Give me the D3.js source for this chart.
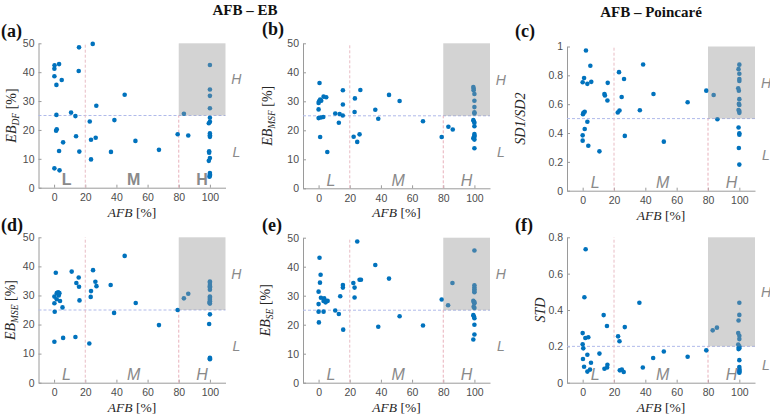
<!DOCTYPE html>
<html><head><meta charset="utf-8">
<script src="https://cdn.jsdelivr.net/npm/d3@7"></script>
<style>body{margin:0;background:#fff}svg{display:block}</style>
</head><body>
<svg id="chart" width="770" height="416"></svg>
<script>
// ---- tick labels ----
const xTicks = [0, 20, 40, 60, 80, 100];
const ebTicks = [0, 10, 20, 30, 40, 50];
const sdTicks = [0, 0.2, 0.4, 0.6, 0.8, 1];
const stdTicks = [0, 0.2, 0.4, 0.6, 0.8];
const zoneLabels = ["L", "M", "H"];
const levelLabels = ["H", "L"];
const titles = ["AFB – EB", "AFB – Poincaré"];

// ---- (a) EB_DF ----
const afbA = [0.3,0.2,3.2,0.2,4.9,1.5,16,15.8,10.9,13.7,1.5,1.3,1.7,14.1,5.8,3.2,16.2,0.2,3.5,
  24.8,45.3,27.1,22.9,38.7,23.7,26.7,36.5,23.7,52.2,67.3,79.3, 83.3,86.1,
  100,100,100,100,100,100,99.3,100,100,100,99.5,99.5,100,99.3,100,100,100,99.7];
const ebDF = [42.4,41.2,42.8,38.6,37.3,35.6,48.6,40.4,26,24.8,25.2,19.7,20.2,17.8,15.7,12.7,12.5,6.7,6,
  49.8,32.2,28.4,22.9,23.4,16.6,17.3,12.4,9.8,16.2,13.1,18.5, 25.6,18.1,
  42.5,34,31.8,27.5,24.2,22.8,22.3,18.8,18.2,17.6,12.6,12.1,10.3,9.3,5.1,4.6,4.1,3.8];

// ---- (b) EB_MSF ----
const afbB = [0.6,1,0.3,0,0,3.2,4.9,0,1.5,3,1,5.6,10.7,13.5,15.5,13,15.6,15.6,1.7,
  23.3,23.1,22.5,24.8,26.3,26.8,36.4,38.3,45.2,52,67,79, 83.3,86.1,
  99.3,99.5,99.5,100,100,100,100,100,99.3,99.7,100,100,100,100,99.3,100,100,100];
const ebMSF = [36.3,30.6,30,29.4,27.2,31.6,31.4,24.2,24.4,24.6,17.7,12.5,25.8,25.6,25.1,22.6,33.8,28.9,30.2,
  31,26.3,17.8,16,18.6,33.9,27.1,24,32.2,30.1,23.1,17.7, 21.2,20.3,
  34.9,34.3,33.8,32.5,30.2,28,26.2,25.8,23.5,23,22.6,21.4,18.7,18.2,17.3,17.8,16.8,13.8];

// ---- (c) SD1/SD2 ----
const afbC = [2.1,4.9,0.9,0,3,5.5,16,13.9,14.2,15.8,0.5,0.2,1.3,3,1.3,0,0,3.6,10.7,
  23.2,26.4,24.9,23.5,22.4,26.9,38.6,36.5,45.2,51.8,67,78.9, 83.6,86,
  100,99.5,100,100,100,99.3,99.7,100,99.7,100,100,100,99.5,100,100,99.7,100,99.5];
const sdRatio = [0.972,0.866,0.782,0.752,0.741,0.755,0.748,0.67,0.66,0.625,0.54,0.53,0.548,0.478,0.428,0.384,0.347,0.312,0.273,
  0.822,0.775,0.65,0.556,0.542,0.38,0.875,0.558,0.671,0.34,0.613,0.694, 0.664,0.495,
  0.874,0.843,0.811,0.775,0.761,0.71,0.693,0.635,0.602,0.595,0.553,0.54,0.438,0.398,0.388,0.296,0.181,0.56];

// ---- (d) EB_MSE ----
const afbD = [1.1,0.2,0.2,0.4,1.7,2.6,3.4,3,1.7,3.8,5.4,0.2,5.8,11.3,14.3,15.8,16,16.3,13.7,
  25,26.5,27.2,23.7,23.5,22.6,36.3,38.5,45.3,52.4,67.3,79.3, 83.3,86.1,
  100,100,100,100,100,100,100,100,100,100,100,99.7,100,100,99.5,100,100,100];
const ebMSE = [37.8,29.6,27.3,24.4,30.8,31.1,30.8,30,28.7,28.1,25.9,14.1,15.4,38.2,34.3,36.2,33,28.3,15.7,
  38.7,34.7,33.2,31.5,29.5,13.5,33.6,24,43.6,27.4,19.8,25, 29,30.6,
  34.8,34.4,33.6,33.2,32.7,32,29.6,29.2,28.8,28.4,28,27.5,27.2,23.5,20.2,8.6,8.3,8.1];

// ---- (e) EB_SE ----
const afbE = [0.6,1.3,0.9,0,0,0,0.2,1.5,3.6,3.2,4.5,5.8,3.2,10.7,13,13.9,15.6,15.6,15.8,
  24.8,22.3,23.1,23.1,26.3,27.2,36.4,45.2,38.3,52,67,79, 83.1,85.9,
  100,100,100,100,100,100,99.3,100,99.7,100,99.5,100,99.3,99.7,100,100,100,99.3];
const ebSE = [43.1,37.2,34.5,31.4,27.1,24.5,20.8,29.3,29.1,28.2,27.7,28.2,24.5,24.9,23.7,29.8,33.7,32.8,18.3,
  48.7,34.4,32.8,29.4,35.5,35.5,40.6,35.9,19.3,22.9,19.7,28.7, 26.7,34.4,
  45.6,33.6,32.8,32.2,31.6,31.2,28.2,27.8,27.6,27.4,26.2,25.8,23.3,22.8,22.2,20,16.6,14.9];

// ---- (f) STD ----
const afbF = [1.9,1.1,0,1.7,3.6,0,0.4,3,0.2,5.3,0.9,4.7,3,13.4,15.5,10.7,15.8,15.6,13.9,
  22.6,23.5,26.9,23.7,25,26.2,36.2,38.4,45,51.8,67,78.9, 83,85.7,
  100,100,99.5,99.3,100,100,99.3,100,99.7,100,99.5,100,100,100,100,100,100,100];
const stdVal = [0.734,0.47,0.273,0.246,0.25,0.211,0.189,0.154,0.13,0.11,0.088,0.072,0.061,0.372,0.312,0.16,0.099,0.084,0.077,
  0.255,0.228,0.306,0.068,0.072,0.059,0.44,0.084,0.136,0.172,0.143,0.178, 0.288,0.303,
  0.44,0.373,0.342,0.273,0.258,0.24,0.21,0.2,0.195,0.19,0.185,0.124,0.086,0.075,0.065,0.06,0.07,0.055];

const panels = [
  {tag:"(a)", afb:afbA, val:ebDF, yMax:50, thr:25, ticks:ebTicks, yl:["EB","DF"," [%]"], px:[38.5,225.5], py:[187.7,43.3], ylx:11, tagPos:[1,37], upright:true},
  {tag:"(b)", afb:afbB, val:ebMSF, yMax:50, thr:25, ticks:ebTicks, yl:["EB","MSF"," [%]"], px:[303,490], py:[188.3,43.3], ylx:267, tagPos:[262,35]},
  {tag:"(c)", afb:afbC, val:sdRatio, yMax:1, thr:0.5, ticks:sdTicks, yl:["SD1/SD2","",""], px:[567,755], py:[190.7,46.5], ylx:520, tagPos:[515,37]},
  {tag:"(d)", afb:afbD, val:ebMSE, yMax:50, thr:25, ticks:ebTicks, yl:["EB","MSE"," [%]"], px:[38.5,225.5], py:[382.7,237.3], ylx:10, tagPos:[1,231]},
  {tag:"(e)", afb:afbE, val:ebSE, yMax:50, thr:25, ticks:ebTicks, yl:["EB","SE"," [%]"], px:[303,490], py:[382.7,237.7], ylx:265, tagPos:[262,231]},
  {tag:"(f)", afb:afbF, val:stdVal, yMax:0.8, thr:0.2, ticks:stdTicks, yl:["STD","",""], px:[567,755], py:[382.7,237.3], ylx:540, tagPos:[515,231]}
];

const svg = d3.select("#chart");
const axisCol = "#9a9a9a", tickTxt = "#4d4d4d", zoneCol = "#8a8a8a";

titles.forEach((t, i) => {
  svg.append("text").attr("x", i === 0 ? 245 : 651).attr("y", i === 0 ? 15 : 17)
    .attr("text-anchor", "middle").attr("font-family", "Liberation Serif, serif")
    .attr("font-weight", "bold").attr("font-size", 15).attr("fill", "#111").text(t);
});

panels.forEach(p => {
  const x = d3.scaleLinear().domain([-10, 110]).range(p.px);
  const y = d3.scaleLinear().domain([0, p.yMax]).range(p.py);
  const g = svg.append("g");

  // panel tag
  g.append("text").attr("x", p.tagPos[0]).attr("y", p.tagPos[1])
    .attr("font-family", "Liberation Serif, serif").attr("font-weight", "bold")
    .attr("font-size", 18).attr("fill", "#111").text(p.tag);

  // axes
  const ax = g.append("g").attr("transform", `translate(0,${p.py[0]})`)
    .call(d3.axisBottom(x).tickValues(xTicks).tickSizeInner(-3).tickSizeOuter(0).tickPadding(6));
  const ay = g.append("g").attr("transform", `translate(${p.px[0]},0)`)
    .call(d3.axisLeft(y).tickValues(p.ticks).tickFormat(d => String(d)).tickSizeInner(-3).tickSizeOuter(0).tickPadding(4));
  [ax, ay].forEach(a => {
    a.select(".domain").attr("stroke", axisCol);
    a.selectAll(".tick line").attr("stroke", axisCol);
    a.selectAll(".tick text").attr("fill", tickTxt).attr("font-size", 10.5)
      .attr("font-family", "Liberation Sans, Arial, sans-serif");
  });

  // threshold lines
  g.append("line").attr("x1", x(-10)).attr("x2", x(110)).attr("y1", y(p.thr)).attr("y2", y(p.thr))
    .attr("stroke", "#b0baea").attr("stroke-width", 1).attr("stroke-dasharray", "3,2");
  g.append("line").attr("x1", x(20)).attr("x2", x(20)).attr("y1", y(0)).attr("y2", y(p.yMax))
    .attr("stroke", "#e8bcc4").attr("stroke-width", 1).attr("stroke-dasharray", "3,2");
  g.append("line").attr("x1", x(80)).attr("x2", x(80)).attr("y1", y(0)).attr("y2", y(p.thr))
    .attr("stroke", "#e8b0bb").attr("stroke-width", 1).attr("stroke-dasharray", "3,2");

  // points
  g.append("g").selectAll("circle").data(p.afb.map((a, i) => [a, p.val[i]])).join("circle")
    .attr("cx", d => x(d[0])).attr("cy", d => y(d[1])).attr("r", 2.3).attr("fill", "#0072BD");

  // shaded H-H region
  g.append("rect").attr("x", x(80)).attr("y", y(p.yMax)).attr("width", x(110) - x(80))
    .attr("height", y(p.thr) - y(p.yMax)).attr("fill", "#969696").attr("opacity", 0.42);

  // zone labels along AFB
  const zx = [8, 51, 95];
  zoneLabels.forEach((z, i) => {
    g.append("text").attr("x", x(zx[i])).attr("y", p.py[0] - 2.5).attr("text-anchor", "middle")
      .attr("font-family", "Liberation Sans, Arial, sans-serif").attr("font-size", 16)
      .attr("font-weight", p.upright ? "bold" : "normal")
      .attr("font-style", p.upright ? "normal" : "italic").attr("fill", zoneCol).text(z);
  });
  // H / L level labels on right
  const ly = [(p.thr + p.yMax) / 2, p.thr / 2];
  levelLabels.forEach((l, i) => {
    g.append("text").attr("x", x(117)).attr("y", y(ly[i])).attr("dy", "0.36em").attr("text-anchor", "middle")
      .attr("font-family", "Liberation Sans, Arial, sans-serif").attr("font-size", 14)
      .attr("font-style", "italic").attr("fill", zoneCol).text(l);
  });

  // x label
  const xl = g.append("text").attr("x", (p.px[0] + p.px[1]) / 2).attr("y", p.py[0] + 29)
    .attr("text-anchor", "middle").attr("font-family", "Liberation Serif, serif")
    .attr("font-size", 13.5).attr("fill", "#262626");
  xl.append("tspan").attr("font-style", "italic").text("AFB");
  xl.append("tspan").text(" [%]");

  // y label
  const cy = (p.py[0] + p.py[1]) / 2;
  const yl = g.append("text").attr("transform", `translate(${p.ylx},${cy}) rotate(-90)`)
    .attr("dy", "0.35em")
    .attr("text-anchor", "middle").attr("font-family", "Liberation Serif, serif")
    .attr("font-size", 14).attr("fill", "#262626");
  yl.append("tspan").attr("font-style", "italic").text(p.yl[0]);
  if (p.yl[1]) {
    yl.append("tspan").attr("font-style", "italic").attr("font-size", 9.5).attr("dy", 3).text(p.yl[1]);
    yl.append("tspan").attr("dy", -3).text(p.yl[2]);
  }
});
</script>
</body></html>
